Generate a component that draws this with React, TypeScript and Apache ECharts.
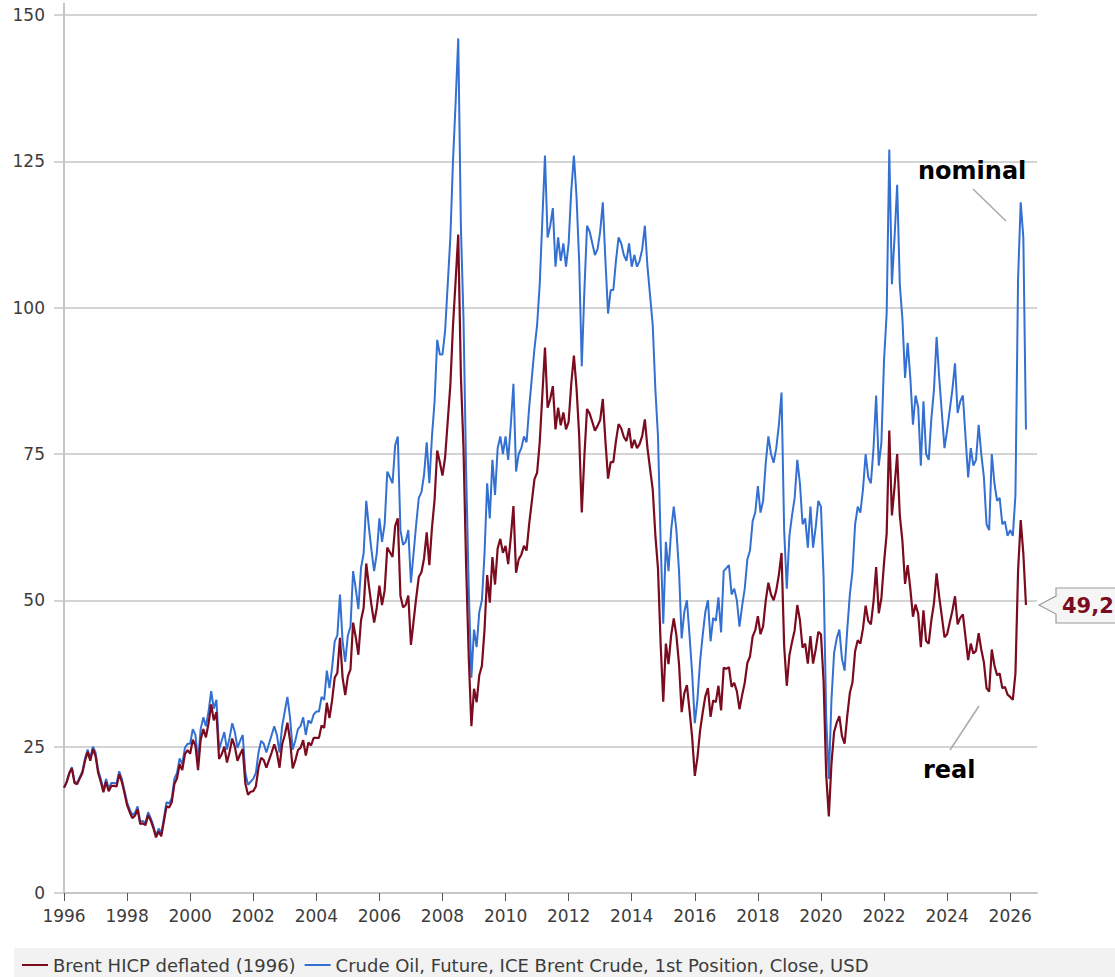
import React, { useEffect, useRef } from "react";
import * as echarts from "echarts";

// Monthly readings (first of month), starting January 1996
const START_YEAR = 1996;

const nominalUSD: number[] = [
  18.0, 19.0, 20.5, 21.5, 19.0, 18.8, 19.8, 20.8, 23.0, 24.5, 23.0, 25.0, // 1996
  24.0, 21.0, 19.5, 17.6, 19.5, 17.8, 18.8, 18.8, 18.7, 20.8, 19.5, 17.5, // 1997
  15.5, 14.3, 13.3, 13.7, 14.8, 12.2, 12.3, 12.0, 13.8, 12.8, 11.5, 9.8, // 1998
  11.0, 10.2, 12.8, 15.5, 15.3, 16.2, 19.5, 20.5, 23.0, 22.0, 24.8, 25.5, // 1999
  25.5, 28.0, 27.0, 22.5, 28.0, 30.0, 28.5, 31.0, 34.5, 31.5, 33.0, 24.5, // 2000
  26.0, 27.5, 24.5, 26.5, 29.0, 27.5, 24.8, 26.0, 27.0, 20.5, 18.5, 19.0, // 2001
  19.5, 20.5, 24.0, 26.0, 25.5, 24.0, 25.5, 27.0, 28.5, 27.0, 24.0, 28.5, // 2002
  31.0, 33.5, 30.0, 24.5, 26.0, 28.0, 28.5, 30.0, 27.0, 29.5, 29.0, 30.5, // 2003
  31.0, 31.0, 33.5, 33.0, 38.0, 35.0, 38.5, 43.0, 44.0, 51.0, 43.0, 39.5, // 2004
  44.0, 45.5, 55.0, 52.0, 48.5, 55.5, 58.0, 67.0, 62.5, 58.5, 55.0, 58.0, // 2005
  64.0, 60.0, 63.0, 72.0, 71.0, 70.0, 76.5, 78.0, 62.0, 59.5, 60.0, 62.0, // 2006
  53.0, 58.0, 63.0, 67.5, 68.5, 71.5, 77.0, 70.0, 78.0, 84.0, 94.5, 92.0, // 2007
  92.0, 96.0, 104.0, 112.0, 125.0, 135.0, 146.0, 114.0, 98.0, 72.0, 52.0, 36.8, // 2008
  45.0, 42.0, 48.0, 50.0, 58.0, 70.0, 64.0, 74.0, 68.0, 76.0, 78.0, 75.0, // 2009
  78.0, 74.0, 80.0, 87.0, 72.0, 75.0, 76.0, 78.0, 77.0, 83.0, 88.0, 93.0, // 2010
  97.0, 104.0, 115.0, 126.0, 112.0, 114.0, 117.0, 107.0, 112.0, 108.0, 111.0, 107.0, // 2011
  111.0, 120.0, 126.0, 119.0, 108.0, 90.0, 103.0, 114.0, 113.0, 111.0, 109.0, 110.0, // 2012
  113.0, 118.0, 108.0, 99.0, 103.0, 103.0, 108.0, 112.0, 111.0, 109.0, 108.0, 111.0, // 2013
  107.0, 109.0, 107.0, 108.0, 110.0, 114.0, 107.0, 102.0, 97.0, 86.0, 78.0, 60.0, // 2014
  46.0, 60.0, 55.0, 62.0, 66.0, 62.0, 55.0, 43.5, 48.0, 50.0, 44.0, 37.5, // 2015
  29.0, 33.0, 39.5, 44.0, 48.0, 50.0, 43.0, 47.0, 46.5, 50.5, 44.5, 55.0, // 2016
  55.5, 56.0, 51.0, 52.0, 50.0, 45.5, 49.0, 52.0, 57.0, 58.5, 63.5, 65.0, // 2017
  69.5, 65.0, 67.0, 73.5, 78.0, 75.0, 73.5, 76.0, 80.0, 85.5, 62.0, 52.0, // 2018
  61.0, 64.5, 67.5, 74.0, 70.0, 63.0, 64.0, 59.0, 66.0, 59.0, 62.5, 67.0, // 2019
  66.0, 54.0, 30.0, 19.5, 33.0, 41.0, 43.5, 45.0, 40.0, 38.0, 45.0, 51.0, // 2020
  55.0, 63.0, 66.0, 65.0, 69.0, 75.0, 71.0, 70.0, 76.0, 85.0, 73.0, 77.0, // 2021
  91.0, 99.0, 127.0, 104.0, 112.0, 121.0, 104.0, 98.0, 88.0, 94.0, 88.0, 80.0, // 2022
  85.0, 83.0, 73.0, 84.0, 75.0, 74.0, 81.0, 86.0, 95.0, 88.0, 82.0, 76.0, // 2023
  79.0, 82.5, 86.0, 90.5, 82.0, 84.0, 85.0, 78.0, 71.0, 76.0, 73.0, 74.0, // 2024
  80.0, 75.0, 71.0, 63.0, 62.0, 75.0, 70.0, 67.0, 67.5, 63.0, 63.5, 61.0, // 2025
  62.0, 61.0, 68.0, 105.0, 118.0, 112.0, 79.2, // 2026
];

const realHICP: number[] = [
  18.0, 18.9, 20.4, 21.3, 18.8, 18.6, 19.6, 20.5, 22.6, 24.1, 22.6, 24.6, // 1996
  23.4, 20.5, 19.0, 17.2, 19.0, 17.4, 18.3, 18.3, 18.2, 20.3, 19.0, 17.1, // 1997
  15.0, 13.8, 12.8, 13.2, 14.3, 11.8, 11.9, 11.6, 13.3, 12.4, 11.1, 9.5, // 1998
  10.5, 9.7, 12.2, 14.8, 14.6, 15.5, 18.6, 19.6, 22.0, 21.0, 23.7, 24.4, // 1999
  23.8, 26.2, 25.2, 21.0, 26.2, 28.0, 26.6, 29.0, 32.2, 29.5, 30.9, 22.9, // 2000
  23.7, 25.0, 22.3, 24.1, 26.4, 25.0, 22.6, 23.7, 24.6, 18.7, 16.8, 17.3, // 2001
  17.4, 18.2, 21.4, 23.1, 22.7, 21.4, 22.7, 24.0, 25.4, 24.0, 21.4, 25.4, // 2002
  27.0, 29.1, 26.1, 21.3, 22.6, 24.4, 24.8, 26.1, 23.5, 25.7, 25.2, 26.5, // 2003
  26.5, 26.5, 28.6, 28.2, 32.5, 29.9, 32.9, 36.8, 37.6, 43.6, 36.8, 33.8, // 2004
  37.0, 38.2, 46.2, 43.7, 40.7, 46.6, 48.7, 56.3, 52.5, 49.1, 46.2, 48.7, // 2005
  52.5, 49.2, 51.7, 59.0, 58.2, 57.4, 62.7, 64.0, 50.8, 48.8, 49.2, 50.8, // 2006
  42.4, 46.4, 50.4, 54.0, 54.8, 57.2, 61.6, 56.0, 62.4, 67.2, 75.6, 73.6, // 2007
  71.3, 74.4, 80.6, 86.8, 96.9, 104.6, 112.5, 88.4, 76.0, 55.8, 40.3, 28.5, // 2008
  34.9, 32.6, 37.2, 38.8, 45.0, 54.3, 49.6, 57.4, 52.7, 58.9, 60.5, 58.1, // 2009
  59.3, 56.2, 60.8, 66.1, 54.7, 57.0, 57.8, 59.3, 58.5, 63.1, 66.9, 70.7, // 2010
  71.8, 77.0, 85.1, 93.2, 82.9, 84.4, 86.6, 79.2, 82.9, 79.9, 82.1, 79.2, // 2011
  80.5, 87.0, 91.8, 86.3, 78.3, 65.0, 74.7, 82.7, 81.9, 80.5, 79.0, 79.8, // 2012
  80.8, 84.4, 77.2, 70.8, 73.6, 73.6, 77.2, 80.1, 79.4, 77.9, 77.2, 79.4, // 2013
  76.0, 77.4, 76.0, 76.7, 78.1, 80.9, 76.0, 72.4, 68.9, 61.1, 55.4, 42.6, // 2014
  32.7, 42.6, 39.1, 44.0, 46.9, 44.0, 39.1, 30.9, 34.1, 35.5, 31.2, 26.6, // 2015
  20.0, 23.1, 27.7, 30.8, 33.6, 35.0, 30.1, 32.9, 32.6, 35.4, 31.2, 38.5, // 2016
  38.3, 38.6, 35.2, 35.9, 34.5, 31.4, 33.8, 35.9, 39.3, 40.4, 43.8, 44.9, // 2017
  47.3, 44.2, 45.6, 50.0, 53.0, 51.0, 50.0, 51.7, 54.4, 58.1, 42.2, 35.4, // 2018
  40.6, 42.9, 44.9, 49.2, 46.6, 41.9, 42.6, 39.2, 43.9, 39.2, 41.6, 44.6, // 2019
  44.2, 36.2, 20.1, 13.1, 22.1, 27.5, 29.1, 30.2, 26.8, 25.5, 30.2, 34.2, // 2020
  36.0, 41.3, 43.2, 42.6, 45.2, 49.1, 46.5, 45.9, 49.8, 55.7, 47.8, 50.4, // 2021
  56.4, 61.4, 79.0, 64.5, 69.4, 75.0, 64.5, 60.1, 52.8, 56.0, 52.0, 47.2, // 2022
  49.3, 47.7, 42.0, 48.3, 43.1, 42.6, 46.6, 49.5, 54.6, 50.6, 47.2, 43.7, // 2023
  44.2, 46.2, 48.2, 50.7, 45.9, 47.0, 47.6, 43.7, 39.8, 42.6, 40.9, 41.4, // 2024
  44.4, 41.6, 39.4, 35.0, 34.4, 41.6, 38.9, 37.2, 37.5, 35.0, 35.2, 33.9, // 2025
  33.5, 33.0, 37.5, 55.0, 63.7, 58.0, 49.2, // 2026
];

const yearTicks = [1996, 1998, 2000, 2002, 2004, 2006, 2008, 2010, 2012, 2014, 2016, 2018, 2020, 2022, 2024, 2026];

const REAL_NAME = "Brent HICP deflated (1996)";
const NOMINAL_NAME = "Crude Oil, Future, ICE Brent Crude, 1st Position, Close, USD";
const LAST_LABEL = "49,2";

const RED = "#7b0b1f";
const BLUE = "#3370d2";
const GRID = "#c6c6c6";
const FONT = '"DejaVu Sans", Verdana, sans-serif';

export default function App() {
  const ref = useRef<HTMLDivElement>(null);

  useEffect(() => {
    const chart = echarts.init(ref.current!, null, { renderer: "svg" });
    const toPts = (arr: number[]) => arr.map((v, i) => [START_YEAR + i / 12, v]);
    const realPts = toPts(realHICP);
    const nomPts = toPts(nominalUSD);

    chart.setOption({
      animation: false,
      textStyle: { fontFamily: FONT },
      grid: { left: 64, right: 78, top: 15, bottom: 84, containLabel: false },
      legend: {
        data: [REAL_NAME, NOMINAL_NAME],
        left: 14,
        top: 956,
        padding: [0, 8],
        itemGap: 9,
        itemWidth: 26,
        itemHeight: 2,
        icon: "rect",
        textStyle: { fontSize: 18, color: "#3c3c3c", fontFamily: FONT },
      },
      xAxis: {
        type: "value",
        min: 1996,
        max: 2026.85,
        interval: 2,
        axisLine: { show: true, onZero: false, lineStyle: { color: GRID, width: 2 } },
        axisTick: { show: true, length: 8, customValues: yearTicks, lineStyle: { color: "#555", width: 1 } },
        axisLabel: {
          customValues: yearTicks,
          margin: 14,
          fontSize: 17,
          color: "#3c3c3c",
          fontFamily: FONT,
          formatter: (v: number) => String(Math.round(v)),
        },
        splitLine: { show: false },
      },
      yAxis: {
        type: "value",
        min: 0,
        max: 150,
        interval: 25,
        axisLine: { show: true, lineStyle: { color: GRID, width: 2 } },
        axisTick: { show: true, length: 10, lineStyle: { color: GRID, width: 1.5 } },
        axisLabel: { margin: 19, fontSize: 17, color: "#3c3c3c", fontFamily: FONT },
        splitLine: { show: true, lineStyle: { color: GRID, width: 1.5 } },
      },
      series: [
        {
          name: NOMINAL_NAME,
          type: "line",
          data: nomPts,
          showSymbol: false,
          lineStyle: { color: BLUE, width: 2 },
          itemStyle: { color: BLUE },
          z: 2,
        },
        {
          name: REAL_NAME,
          type: "line",
          data: realPts,
          showSymbol: false,
          lineStyle: { color: RED, width: 2.2 },
          itemStyle: { color: RED },
          z: 3,
        },
      ],
    });

    const last = realPts[realPts.length - 1];
    const [, py] = chart.convertToPixel({ gridIndex: 0 }, last) as number[];
    const tipX = 1039;

    chart.setOption({
      graphic: [
        { type: "rect", z: 0, shape: { x: 14, y: 948, width: 1110, height: 31 }, style: { fill: "#f2f2f2" } },
        { type: "line", shape: { x1: 64, y1: 3, x2: 64, y2: 16 }, style: { stroke: GRID, lineWidth: 2 } },
        {
          type: "text",
          x: 918,
          y: 171,
          style: { text: "nominal", font: `bold 24px ${FONT}`, fill: "#000", verticalAlign: "middle" },
        },
        { type: "line", shape: { x1: 973, y1: 189, x2: 1006, y2: 221 }, style: { stroke: "#aaa", lineWidth: 1.5 } },
        {
          type: "text",
          x: 923,
          y: 770,
          style: { text: "real", font: `bold 24px ${FONT}`, fill: "#000", verticalAlign: "middle" },
        },
        { type: "line", shape: { x1: 979, y1: 706, x2: 950, y2: 750 }, style: { stroke: "#aaa", lineWidth: 1.5 } },
        {
          type: "polygon",
          shape: {
            points: [
              [tipX, py],
              [tipX + 17, py - 9],
              [tipX + 17, py - 17],
              [1125, py - 17],
              [1125, py + 18],
              [tipX + 17, py + 18],
              [tipX + 17, py + 9],
            ],
          },
          style: { fill: "#f5f5f5", stroke: "#9a9a9a", lineWidth: 1.2 },
        },
        {
          type: "text",
          x: 1062,
          y: py + 1,
          style: { text: LAST_LABEL, font: `bold 21px ${FONT}`, fill: RED, verticalAlign: "middle" },
        },
      ],
    });

    return () => chart.dispose();
  }, []);

  return <div ref={ref} style={{ position: "absolute", left: 0, top: 0, width: 1115, height: 977 }} />;
}
